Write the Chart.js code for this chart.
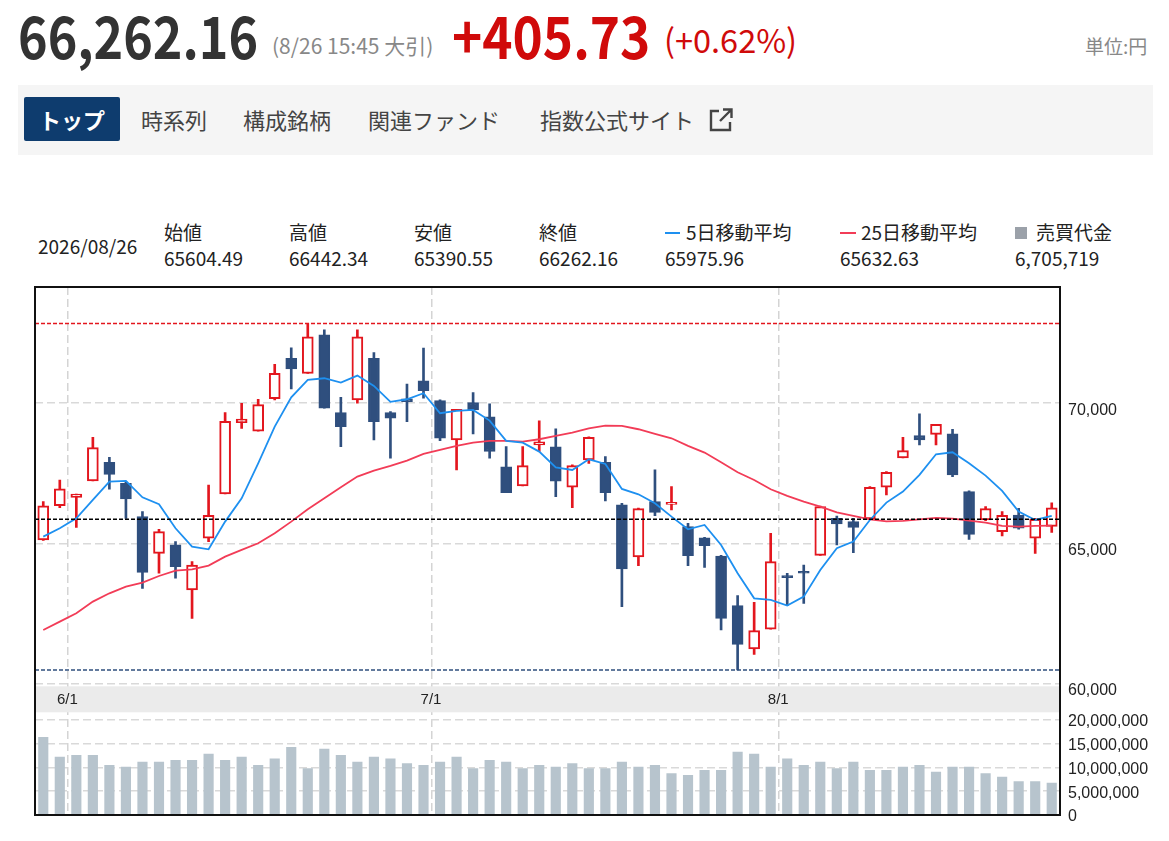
<!DOCTYPE html>
<html><head><meta charset="utf-8">
<script src="https://cdn.jsdelivr.net/npm/chart.js@4.4.1/dist/chart.umd.min.js"></script>
<style>
body{margin:0;background:#fff;width:1169px;height:841px;overflow:hidden;font-family:"Noto Sans CJK JP","Noto Sans",sans-serif;position:relative}
.a{position:absolute;white-space:nowrap;line-height:1}
.sx{transform-origin:0 0;transform:scaleX(0.866)}
#wrap{position:absolute;left:0;top:280px;width:1169px;height:550px}
</style></head><body>
<div class="a sx" style="left:18px;top:4.7px;font-size:58px;font-weight:700;color:#333">66,262.16</div>
<div class="a" style="left:272px;top:35.3px;font-size:21px;color:#888">(8/26 15:45 大引)</div>
<div class="a sx" style="left:452px;top:4.7px;font-size:58px;font-weight:700;color:#d00a0a;transform:scaleX(0.885)">+405.73</div>
<div class="a" style="left:664px;top:23px;font-size:32.5px;color:#d00a0a">(+0.62%)</div>
<div class="a" style="left:1085px;top:36px;font-size:19px;color:#888">単位:円</div>

<div class="a" style="left:18px;top:85px;width:1135px;height:70px;background:#f5f5f5"></div>
<div class="a" style="left:24px;top:97px;width:96px;height:44px;background:#0e3c6e;border-radius:2px"></div>
<div class="a" style="left:24px;top:108px;width:96px;text-align:center;font-size:22px;font-weight:700;color:#fff">トップ</div>
<div class="a" style="left:141px;top:108px;font-size:22px;color:#444">時系列</div>
<div class="a" style="left:243px;top:108px;font-size:22px;color:#444">構成銘柄</div>
<div class="a" style="left:368px;top:108px;font-size:22px;color:#444">関連ファンド</div>
<div class="a" style="left:540px;top:108px;font-size:22px;color:#444">指数公式サイト</div>
<svg class="a" style="left:708px;top:107px" width="26" height="26" viewBox="0 0 26 26">
<path d="M11 4H3v19h19v-8" fill="none" stroke="#444" stroke-width="2.4"/>
<path d="M15 2.5h8.5V11M23.5 2.5L12 14" fill="none" stroke="#444" stroke-width="2.4"/>
</svg>

<div class="a" style="left:38px;top:236px;font-size:19px;color:#222">2026/08/26</div>
<div class="a" style="left:164px;top:222px;font-size:19px;color:#222">始値</div>
<div class="a" style="left:289px;top:222px;font-size:19px;color:#222">高値</div>
<div class="a" style="left:414px;top:222px;font-size:19px;color:#222">安値</div>
<div class="a" style="left:539px;top:222px;font-size:19px;color:#222">終値</div>
<div class="a" style="left:665px;top:232px;width:15px;height:2px;background:#1e90f0"></div>
<div class="a" style="left:686px;top:222px;font-size:19px;color:#222">5日移動平均</div>
<div class="a" style="left:840px;top:232px;width:16px;height:2px;background:#f23c57"></div>
<div class="a" style="left:861px;top:222px;font-size:19px;color:#222">25日移動平均</div>
<div class="a" style="left:1015px;top:227px;width:12px;height:12px;background:#9ba1a9"></div>
<div class="a" style="left:1036px;top:222px;font-size:19px;color:#222">売買代金</div>
<div class="a" style="left:164px;top:248px;font-size:19px;color:#222">65604.49</div>
<div class="a" style="left:289px;top:248px;font-size:19px;color:#222">66442.34</div>
<div class="a" style="left:414px;top:248px;font-size:19px;color:#222">65390.55</div>
<div class="a" style="left:539px;top:248px;font-size:19px;color:#222">66262.16</div>
<div class="a" style="left:665px;top:248px;font-size:19px;color:#222">65975.96</div>
<div class="a" style="left:840px;top:248px;font-size:19px;color:#222">65632.63</div>
<div class="a" style="left:1015px;top:248px;font-size:19px;color:#222">6,705,719</div>

<div id="wrap"><canvas id="c"></canvas></div>
<script>
const dates = ['5/28','5/29',
 '6/1','6/2','6/3','6/4','6/5','6/8','6/9','6/10','6/11','6/12','6/15','6/16','6/17','6/18','6/19','6/22','6/23','6/24','6/25','6/26','6/29','6/30',
 '7/1','7/2','7/3','7/6','7/7','7/8','7/9','7/10','7/13','7/14','7/15','7/16','7/17','7/22','7/23','7/24','7/27','7/28','7/29','7/30','7/31',
 '8/3','8/4','8/5','8/6','8/7','8/10','8/12','8/13','8/14','8/17','8/18','8/19','8/20','8/21','8/24','8/25','8/26'];
const tickLabels = ['6/1','7/1','8/1'];
const priceTicks = [60000,65000,70000];
const volumeTicks = [0,5000000,10000000,15000000,20000000];
const opens = [65120,66340,66640,67225,67890,67140,65950,64640,64940,63330,65180,66760,69310,69000,70165,71605,71060,72440,69665,70120,71605,69665,70155,70800,70095,68690,70025,69510,67725,67045,68510,68440,67000,67975,67890,66370,64510,66485,66390,65595,65190,64545,62775,61225,61930,63830,63985,64570,65890,65775,65870,67000,68045,68845,68890,68905,66845,65830,65415,66010,65180,65604.49];
const highs = [66490,67260,66760,68785,68070,67200,66130,65500,65060,64345,67080,69665,70000,70140,71390,71975,72845,72620,70215,72620,71810,69700,70680,71965,70120,69785,70380,69975,68450,68450,69370,69085,67800,68800,68095,66430,66260,67620,67025,65715,65210,64570,63130,62890,65355,63930,64225,66330,65975,65890,67020,67560,68785,69620,69250,69070,66870,66310,66130,66250,65890,66442.34];
const lows = [65100,66270,65570,67225,66930,65890,63390,63930,63750,62320,65060,66760,69105,69000,70120,70510,71060,69820,68450,70000,68690,68035,69345,70180,68665,67620,68905,68035,66810,67045,68275,66665,66275,67855,66510,62735,64200,65985,66190,64200,64140,61905,60475,61035,61930,62775,62855,64570,64940,64665,65870,66725,68045,68510,68510,67380,65140,65810,65260,65500,64640,65390.55];
const closes = [66340,66940,66760,68415,67460,66580,63960,65415,64165,64225,66000,69355,69430,69950,71070,71225,72370,69820,69165,72370,69345,69465,70060,70450,68750,69785,69760,68275,66810,67775,68620,67215,67775,68785,66810,64080,66235,66105,66430,64560,64915,62320,61390,61880,64345,63775,63930,66310,65690,65570,67000,67535,68310,68690,69250,67440,65320,66235,66000,65535,65856.43,66262.16];
const ma5 = [65237,65535,65892,66547,67202,67225,66642,66392,65535,64880,64785,65773,66606,67856,69166,70213,70833,70892,70737,70987,70618,70047,70142,70356,69642,69725,69761,69380,68654,68594,68273,67713,67618,67999,67832,66940,66749,66428,65952,65499,65654,64940,63928,63035,62975,62773,63094,64047,64821,65059,65832,66452,66845,67440,68178,68249,67856,67416,66868,66130,65832,65975.96];
const ma25 = [61904,62202,62499,62916,63213,63452,63594,63832,64023,64071,64202,64523,64761,64999,65356,65773,66213,66606,66999,67380,67594,67761,67952,68190,68333,68476,68595,68654,68654,68630,68714,68833,68952,69106,69202,69190,69071,68904,68749,68476,68238,67892,67535,67261,66928,66690,66487,66309,66106,65975,65856,65785,65797,65856,65904,65880,65809,65737,65618,65595,65618,65632.63];
const volumes = [16350000,12200000,12570000,12570000,10460000,10100000,11160000,11160000,11500000,11500000,12840000,11500000,12200000,10460000,11800000,14250000,9760000,13900000,12570000,11160000,12200000,11800000,10800000,10460000,11160000,12200000,9760000,11500000,11160000,9760000,10460000,10100000,10800000,9750000,9750000,11160000,10100000,10460000,8700000,8350000,9400000,9400000,13260000,12840000,10100000,11800000,10460000,11160000,9750000,11160000,9400000,9400000,10100000,10460000,9050000,10100000,10100000,8700000,8000000,7020000,7020000,6705719];

const RED='#e3161e', NAVY='#2f4f7e';
const rising = opens.map((o,i)=>closes[i]>=o);
const monthIdx = new Map();
tickLabels.forEach(t=>{const m=t.split('/')[0];const i=dates.findIndex(d=>d.split('/')[0]===m);if(i>=0)monthIdx.set(i,t);});
const maxHigh = Math.max(...highs), minLow = Math.min(...lows), prevClose = closes[closes.length-2];

const decor = {
  id:'decor',
  beforeDatasetsDraw(chart){
    const {ctx, chartArea:a, scales} = chart;
    const b = scales.yBand;
    ctx.save(); ctx.fillStyle='#ebebeb';
    ctx.fillRect(a.left, b.top+3, a.right-a.left, b.bottom-b.top-3);
    ctx.restore();
  },
  afterDatasetsDraw(chart){
    const {ctx, chartArea:a, scales} = chart;
    const y = scales.y;
    ctx.save();
    ctx.lineWidth=1.5; ctx.setLineDash([4,2]);
    [[maxHigh,'#e3161e'],[prevClose,'#000'],[minLow,'#2f4f7e']].forEach(([v,c])=>{
      const py=y.getPixelForValue(v);
      ctx.strokeStyle=c; ctx.beginPath(); ctx.moveTo(a.left,py); ctx.lineTo(a.right,py); ctx.stroke();
    });
    ctx.restore();
  },
  afterDraw(chart){
    const {ctx, chartArea:a} = chart;
    ctx.save(); ctx.strokeStyle='#111'; ctx.lineWidth=2;
    ctx.strokeRect(a.left, a.top, a.right-a.left, a.bottom-a.top);
    ctx.restore();
  }
};

const fitY = s => { s.width = 109; s.paddingTop = 0; s.paddingBottom = 0; };
const fitX = s => { s.paddingLeft = 0; s.paddingRight = 0; };
const setTicks = arr => s => { s.ticks = arr.map(v=>({value:v})); };
const gridDash = {display:false, dash:[8,4]};
const tickFont = {family:'"Liberation Sans", Arial, sans-serif', size:16};

new Chart(document.getElementById('c'), {
  type:'bar',
  data:{
    labels: dates,
    datasets:[
      {type:'line', label:'5MA', data:ma5, yAxisID:'y', borderColor:'#1e90f0', borderWidth:1.8, pointRadius:0, tension:0, order:0},
      {type:'line', label:'25MA', data:ma25, yAxisID:'y', borderColor:'#f23c57', borderWidth:1.8, pointRadius:0, tension:0, order:0},
      {label:'body', data: opens.map((o,i)=>[o,closes[i]]), yAxisID:'y', grouped:false, barThickness:11, minBarLength:2,
        backgroundColor: rising.map(r=>r?'#ffffff':NAVY), borderColor: rising.map(r=>r?RED:NAVY), borderWidth:2, borderSkipped:false, order:1},
      {label:'wick', data: lows.map((l,i)=>[l,highs[i]]), yAxisID:'y', grouped:false, barThickness:2,
        backgroundColor: rising.map(r=>r?RED:NAVY), borderWidth:0, order:2},
      {label:'vol', data: volumes, yAxisID:'yVol', grouped:false, barThickness:9.5, backgroundColor:'#b7c4cd', order:3}
    ]
  },
  options:{
    responsive:true, maintainAspectRatio:false, animation:false,
    layout:{padding:{left:35, top:7, right:0, bottom:15}},
    plugins:{legend:{display:false}, tooltip:{enabled:false}},
    scales:{
      x:{type:'category', position:{y:60000}, offset:true, afterFit:fitX,
        grid:{offset:true, drawTicks:false, lineWidth:1.5, color:ctx=>monthIdx.has(ctx.index)?'#d4d4d4':'rgba(0,0,0,0)'},
        border:{display:false, dash:[8,4]},
        ticks:{autoSkip:false, maxRotation:0, padding:8, labelOffset:-9, z:1, color:'#222', font:{family:'"Liberation Sans", Arial, sans-serif', size:15},
          callback:(v,i)=>monthIdx.has(i)?monthIdx.get(i):''}},
      y:{type:'linear', position:'right', stack:'s', stackWeight:396.3, min:60000, max:74150,
        afterBuildTicks:setTicks(priceTicks), afterFit:fitY,
        grid:{drawTicks:false, lineWidth:1.5, color:'#d9d9d9'}, border:gridDash,
        ticks:{autoSkip:false, padding:8, labelOffset:7, color:'#222', font:tickFont, callback:v=>v.toLocaleString('en-US')}},
      yBand:{type:'linear', position:'right', stack:'s', stackWeight:29, min:0, max:1, afterFit:fitY,
        grid:{display:false}, border:{display:false}, ticks:{display:false}},
      yVol:{type:'linear', position:'right', stack:'s', stackWeight:102.7, min:0, max:21620000,
        afterBuildTicks:setTicks(volumeTicks), afterFit:fitY,
        grid:{drawTicks:false, lineWidth:1.5, color:'#d9d9d9'}, border:gridDash,
        ticks:{autoSkip:false, padding:8, labelOffset:2, color:'#222', font:tickFont, callback:v=>v.toLocaleString('en-US')}}
    }
  },
  plugins:[decor]
});
</script>
</body></html>
